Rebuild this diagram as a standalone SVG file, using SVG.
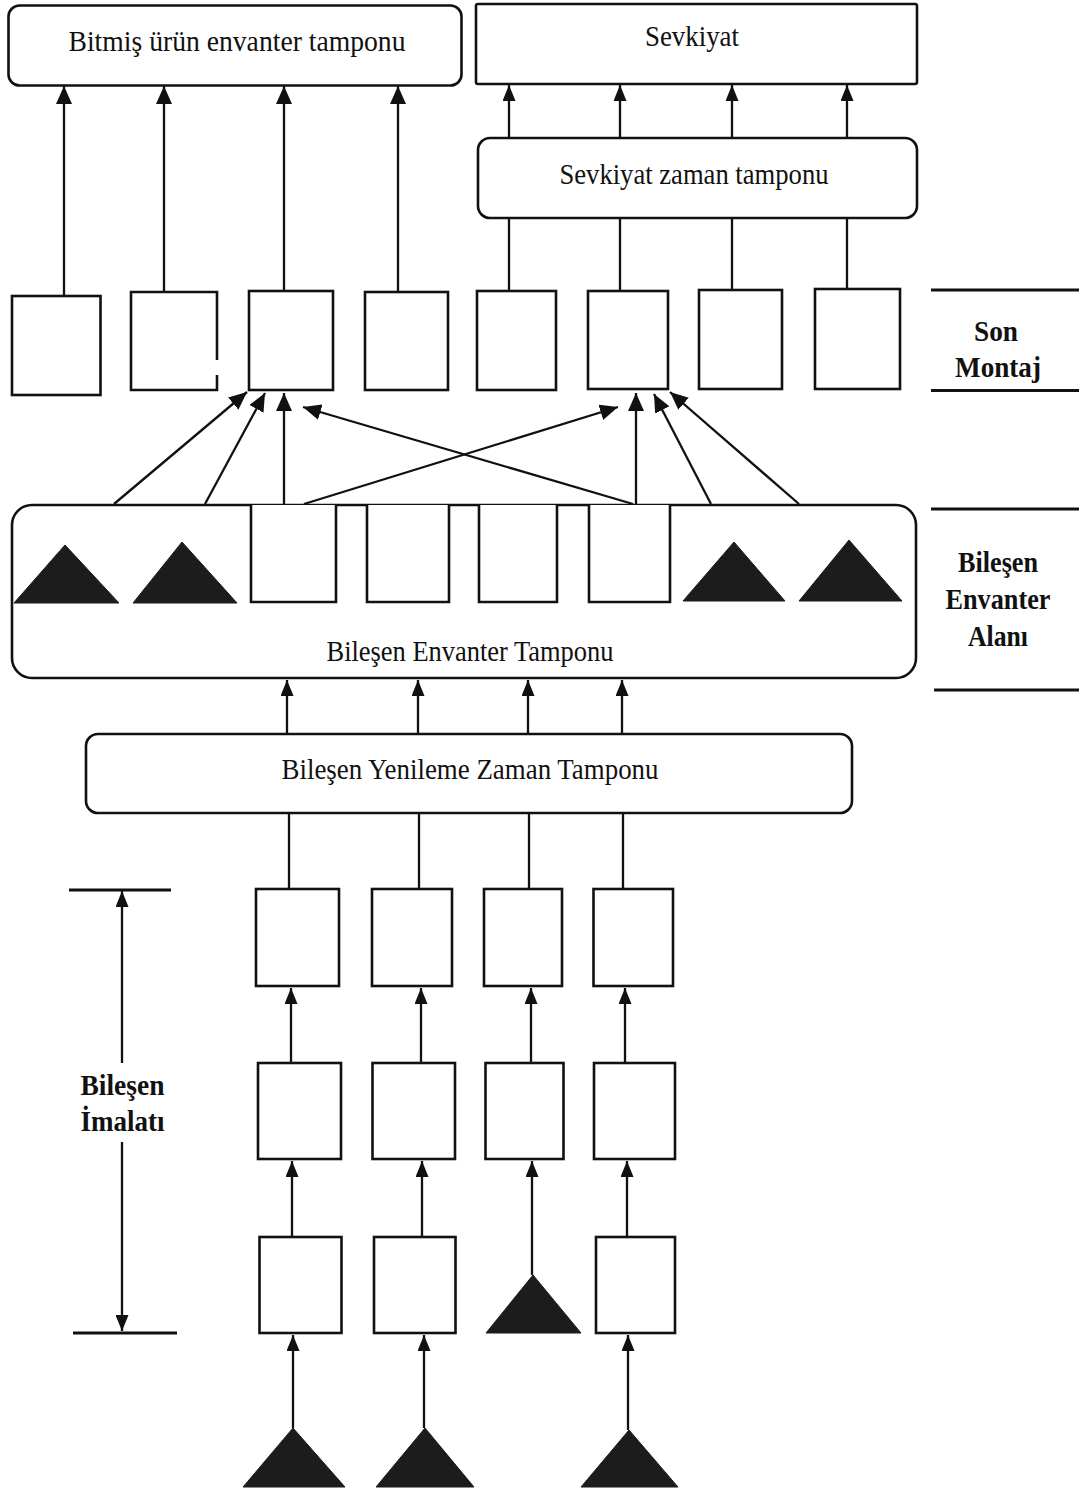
<svg xmlns="http://www.w3.org/2000/svg" width="1082" height="1493" viewBox="0 0 1082 1493">
<defs>
<style>
.box{fill:#fff;stroke:#111;stroke-width:2.6}
.rbox{fill:#fff;stroke:#111;stroke-width:2.6}
.conn{stroke:#111;stroke-width:2.3;fill:none}
.tri{fill:#1c1c1c;stroke:#1c1c1c;stroke-width:1}
.sec{stroke:#111;stroke-width:3}
.lbl{font-family:"Liberation Serif","Times New Roman",serif;font-size:30px;fill:#111;text-anchor:middle}
.blbl{font-family:"Liberation Serif","Times New Roman",serif;font-size:30px;font-weight:bold;fill:#111;text-anchor:middle}
</style>
<marker id="ah" viewBox="0 0 18 16" markerWidth="18" markerHeight="16" refX="18" refY="8" orient="auto" markerUnits="userSpaceOnUse">
<path d="M0,0 L18,8 L0,16 z" fill="#111"/>
</marker>
<marker id="ahs" viewBox="0 0 16 13" markerWidth="16" markerHeight="13" refX="16" refY="6.5" orient="auto" markerUnits="userSpaceOnUse">
<path d="M0,0 L16,6.5 L0,13 z" fill="#111"/>
</marker>
</defs>
<rect width="1082" height="1493" fill="#fff"/>

<g id="connectors">
<line class="conn" x1="64" y1="296" x2="64" y2="86" marker-end="url(#ah)"/>
<line class="conn" x1="164" y1="292" x2="164" y2="86" marker-end="url(#ah)"/>
<line class="conn" x1="284" y1="291" x2="284" y2="86" marker-end="url(#ah)"/>
<line class="conn" x1="398" y1="292" x2="398" y2="86" marker-end="url(#ah)"/>
<line class="conn" x1="509" y1="291" x2="509" y2="218"/>
<line class="conn" x1="620" y1="291" x2="620" y2="218"/>
<line class="conn" x1="732" y1="290" x2="732" y2="218"/>
<line class="conn" x1="847" y1="289" x2="847" y2="218"/>
<line class="conn" x1="509" y1="138" x2="509" y2="85" marker-end="url(#ahs)"/>
<line class="conn" x1="620" y1="138" x2="620" y2="85" marker-end="url(#ahs)"/>
<line class="conn" x1="732" y1="138" x2="732" y2="85" marker-end="url(#ahs)"/>
<line class="conn" x1="847" y1="138" x2="847" y2="85" marker-end="url(#ahs)"/>
<line class="conn" x1="114" y1="504" x2="247" y2="392" marker-end="url(#ah)"/>
<line class="conn" x1="205" y1="504" x2="265" y2="393" marker-end="url(#ah)"/>
<line class="conn" x1="284" y1="504" x2="284" y2="393" marker-end="url(#ah)"/>
<line class="conn" x1="633" y1="504" x2="303" y2="407" marker-end="url(#ah)"/>
<line class="conn" x1="304" y1="504" x2="618" y2="407" marker-end="url(#ah)"/>
<line class="conn" x1="636" y1="504" x2="636" y2="393" marker-end="url(#ah)"/>
<line class="conn" x1="711" y1="504" x2="654" y2="394" marker-end="url(#ah)"/>
<line class="conn" x1="799" y1="504" x2="670" y2="392" marker-end="url(#ah)"/>
<line class="conn" x1="287" y1="734" x2="287" y2="680" marker-end="url(#ahs)"/>
<line class="conn" x1="418" y1="734" x2="418" y2="680" marker-end="url(#ahs)"/>
<line class="conn" x1="528" y1="734" x2="528" y2="680" marker-end="url(#ahs)"/>
<line class="conn" x1="622" y1="734" x2="622" y2="680" marker-end="url(#ahs)"/>
<line class="conn" x1="289" y1="889" x2="289" y2="813"/>
<line class="conn" x1="419" y1="889" x2="419" y2="813"/>
<line class="conn" x1="529" y1="889" x2="529" y2="813"/>
<line class="conn" x1="623" y1="889" x2="623" y2="813"/>
<line class="conn" x1="291" y1="1063" x2="291" y2="988" marker-end="url(#ahs)"/>
<line class="conn" x1="421" y1="1063" x2="421" y2="988" marker-end="url(#ahs)"/>
<line class="conn" x1="531" y1="1063" x2="531" y2="988" marker-end="url(#ahs)"/>
<line class="conn" x1="625" y1="1063" x2="625" y2="988" marker-end="url(#ahs)"/>
<line class="conn" x1="292" y1="1237" x2="292" y2="1161" marker-end="url(#ahs)"/>
<line class="conn" x1="422" y1="1237" x2="422" y2="1161" marker-end="url(#ahs)"/>
<line class="conn" x1="532" y1="1275" x2="532" y2="1161" marker-end="url(#ahs)"/>
<line class="conn" x1="627" y1="1237" x2="627" y2="1161" marker-end="url(#ahs)"/>
<line class="conn" x1="293" y1="1428" x2="293" y2="1335" marker-end="url(#ahs)"/>
<line class="conn" x1="424" y1="1428" x2="424" y2="1335" marker-end="url(#ahs)"/>
<line class="conn" x1="628" y1="1430" x2="628" y2="1335" marker-end="url(#ahs)"/>
<line class="conn" x1="122" y1="1063" x2="122" y2="891" marker-end="url(#ahs)"/>
<line class="conn" x1="122" y1="1142" x2="122" y2="1331" marker-end="url(#ahs)"/>
</g>

<g id="bitmis-urun-envanter-tamponu">
<rect class="rbox" x="8.5" y="5.5" width="453" height="80" rx="11"/>
<text class="lbl" x="237" y="51" textLength="337" lengthAdjust="spacingAndGlyphs">Bitmiş ürün envanter tamponu</text>
</g>
<g id="sevkiyat">
<rect class="box" x="476" y="4" width="441" height="80" rx="2"/>
<text class="lbl" x="692" y="46" textLength="94" lengthAdjust="spacingAndGlyphs">Sevkiyat</text>
</g>
<g id="sevkiyat-zaman-tamponu">
<rect class="rbox" x="478" y="138" width="439" height="80" rx="12"/>
<text class="lbl" x="694" y="184" textLength="269" lengthAdjust="spacingAndGlyphs">Sevkiyat zaman tamponu</text>
</g>

<g id="son-montaj-1"><rect class="box" x="12" y="296" width="88.5" height="99"/></g>
<g id="son-montaj-2"><path class="box" d="M217,360 V292 H131 V390 H217 V375"/></g>
<g id="son-montaj-3"><rect class="box" x="249" y="291" width="84" height="99"/></g>
<g id="son-montaj-4"><rect class="box" x="365" y="292" width="83" height="98"/></g>
<g id="son-montaj-5"><rect class="box" x="477" y="291" width="79" height="99"/></g>
<g id="son-montaj-6"><rect class="box" x="588" y="291" width="80" height="98"/></g>
<g id="son-montaj-7"><rect class="box" x="699" y="290" width="83" height="99"/></g>
<g id="son-montaj-8"><rect class="box" x="815" y="289" width="85" height="100"/></g>

<g id="bilesen-envanter-tamponu">
<rect class="rbox" x="12" y="505" width="904" height="173" rx="20"/>
<polygon class="tri" points="14,603 65,545 119,603"/>
<polygon class="tri" points="133,603 182,542 237,603"/>
<path class="box" d="M251,505 V602 H336 V505"/>
<path class="box" d="M367,505 V602 H449 V505"/>
<path class="box" d="M479,505 V602 H557 V505"/>
<path class="box" d="M589,505 V602 H670 V505"/>
<polygon class="tri" points="683,601 734,542 785,601"/>
<polygon class="tri" points="799,601 849,540 902,601"/>
<text class="lbl" x="470" y="661" textLength="287" lengthAdjust="spacingAndGlyphs">Bileşen Envanter Tamponu</text>
</g>

<g id="bilesen-yenileme-zaman-tamponu">
<rect class="rbox" x="86" y="734" width="766" height="79" rx="12"/>
<text class="lbl" x="470" y="779" textLength="377" lengthAdjust="spacingAndGlyphs">Bileşen Yenileme Zaman Tamponu</text>
</g>

<g id="row-a-1"><rect class="box" x="256" y="889" width="83" height="97"/></g>
<g id="row-a-2"><rect class="box" x="372" y="889" width="80" height="97"/></g>
<g id="row-a-3"><rect class="box" x="484" y="889" width="78" height="97"/></g>
<g id="row-a-4"><rect class="box" x="593.5" y="889" width="79.5" height="97"/></g>

<g id="row-b-1"><rect class="box" x="258" y="1063" width="83" height="96"/></g>
<g id="row-b-2"><rect class="box" x="372.5" y="1063" width="82.5" height="96"/></g>
<g id="row-b-3"><rect class="box" x="485.5" y="1063" width="78" height="96"/></g>
<g id="row-b-4"><rect class="box" x="594" y="1063" width="81" height="96"/></g>

<g id="row-c-1"><rect class="box" x="259.5" y="1237" width="82" height="96"/></g>
<g id="row-c-2"><rect class="box" x="374" y="1237" width="81.5" height="96"/></g>
<g id="row-c-3"><polygon class="tri" points="486,1333 533,1275 581,1333"/></g>
<g id="row-c-4"><rect class="box" x="596" y="1237" width="79" height="96"/></g>

<g id="raw-1"><polygon class="tri" points="243,1487 293,1428 345,1487"/></g>
<g id="raw-2"><polygon class="tri" points="376,1487 425,1428 474,1487"/></g>
<g id="raw-3"><polygon class="tri" points="581,1487 629,1430 678,1487"/></g>

<g id="son-montaj-label">
<line class="sec" x1="931" y1="290" x2="1079" y2="290"/>
<line class="sec" x1="931" y1="390.5" x2="1079" y2="390.5"/>
<text class="blbl" x="996" y="341" textLength="44" lengthAdjust="spacingAndGlyphs">Son</text>
<text class="blbl" x="998" y="377" textLength="86" lengthAdjust="spacingAndGlyphs">Montaj</text>
</g>
<g id="bilesen-envanter-alani-label">
<line class="sec" x1="931" y1="509" x2="1079" y2="509"/>
<line class="sec" x1="934" y1="690" x2="1079" y2="690"/>
<text class="blbl" x="998" y="572" textLength="80" lengthAdjust="spacingAndGlyphs">Bileşen</text>
<text class="blbl" x="998" y="609" textLength="105" lengthAdjust="spacingAndGlyphs">Envanter</text>
<text class="blbl" x="998" y="646" textLength="60" lengthAdjust="spacingAndGlyphs">Alanı</text>
</g>
<g id="bilesen-imalati-label">
<line class="sec" x1="69" y1="890" x2="171" y2="890"/>
<line class="sec" x1="73" y1="1333" x2="177" y2="1333"/>
<text class="blbl" x="122.5" y="1095" textLength="84" lengthAdjust="spacingAndGlyphs">Bileşen</text>
<text class="blbl" x="122.5" y="1131" textLength="84" lengthAdjust="spacingAndGlyphs">İmalatı</text>
</g>
</svg>
